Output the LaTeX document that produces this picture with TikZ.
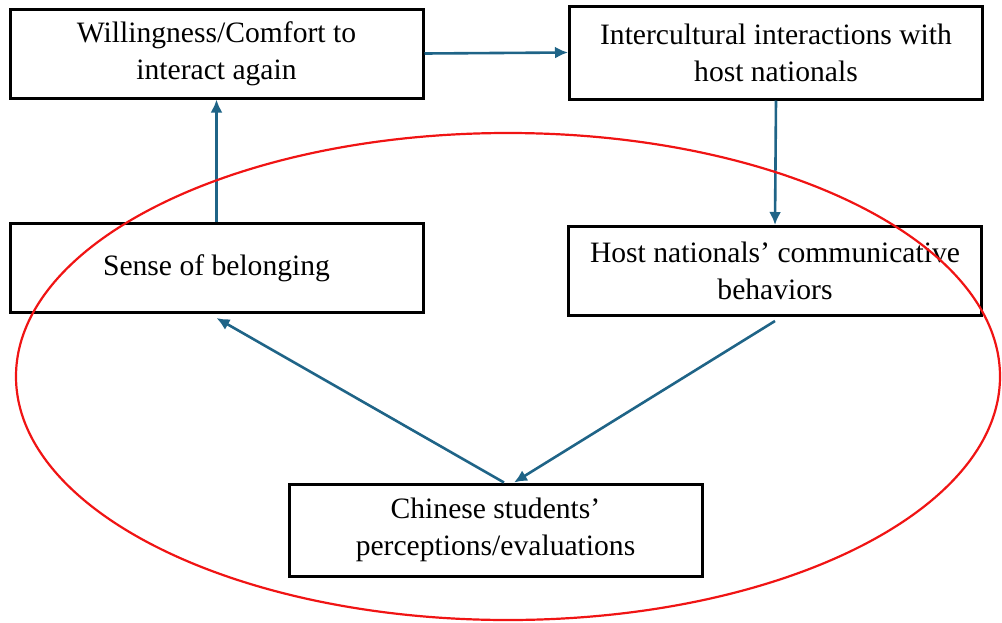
\documentclass[tikz,border=0pt]{standalone}
\usepackage{fontspec}
\setmainfont{Liberation Serif}
\usetikzlibrary{arrows.meta}

\definecolor{flowblue}{RGB}{31,100,135}
\definecolor{ringred}{RGB}{240,20,20}

\tikzset{
  box/.style={draw, line width=1.5pt, minimum width=206.5pt, minimum height=44.5pt, align=center, font=\fontsize{14.8}{18.5}\selectfont},
  flow/.style={-{Latex[length=6.5pt,width=6pt]}, line width=1.3pt, flowblue}
}

\begin{document}
\begin{tikzpicture}[x=0.5pt,y=-0.5pt]

\useasboundingbox (0,0) rectangle (1002,622);

\node[box] (willing) at (216.5,53.5) {Willingness/Comfort to\\interact again};
\node[box, minimum height=46.5pt] (contact) at (776,52.5) {Intercultural interactions with\\host nationals};
\node[box] (belong) at (216.5,268) {Sense of belonging};
\node[box] (behave) at (775,271) {Host nationals' communicative\\behaviors};
\node[box, minimum height=46pt] (judge) at (495.5,530) {Chinese students'\\perceptions/evaluations};

\draw[flow] (willing.east) -- (contact.west);
\draw[flow] (contact.south) -- (behave.north);
\draw[flow] (belong.north) -- (willing.south);
\draw[flow] ([yshift=-2pt]behave.south) -- ([xshift=9.25pt]judge.north);
\draw[flow] ([xshift=4.25pt]judge.north) -- ([yshift=-2pt]belong.south);

\draw[ringred, line width=1.1pt] (508,376.5) ellipse [x radius=246pt, y radius=121.75pt];

\end{tikzpicture}
\end{document}
